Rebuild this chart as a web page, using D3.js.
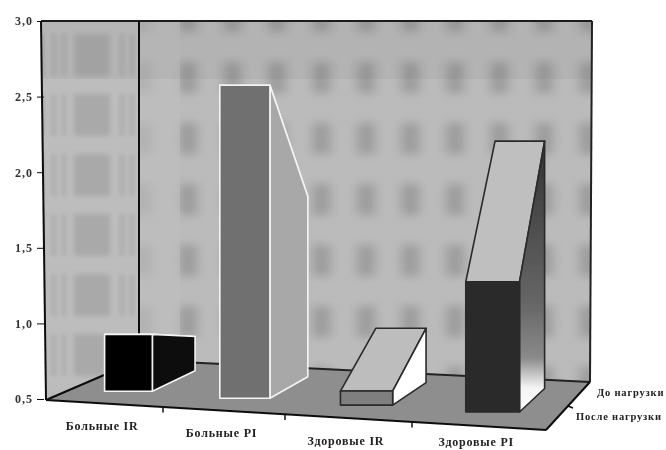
<!DOCTYPE html>
<html>
<head>
<meta charset="utf-8">
<script src="https://cdn.jsdelivr.net/npm/d3@7"></script>
<style>
html, body { margin: 0; padding: 0; background: #fff; overflow: hidden; }
svg { display: block; }
text { font-family: "Liberation Serif", serif; fill: #222; }
</style>
</head>
<body>
<svg id="chart" width="666" height="450"></svg>
<script>
var categories = ["Больные IR", "Больные PI", "Здоровые IR", "Здоровые PI"];
var series = ["После нагрузки", "До нагрузки"];
var after_load = [0.885, 2.615, 0.595, 1.38];
var before_load = [0.74, 1.76, 0.88, 2.23];
var y_ticks = [0.5, 1.0, 1.5, 2.0, 2.5, 3.0];

// per bar colours: front, top, side, outline
var front_fill = ["#050505", "#6f6f6f", "#7f7f7f", "#2c2c2c"];
var top_fill = ["#050505", "#a9a9a9", "#bdbdbd", "#bfbfbf"];
var side_fill = ["#0a0a0a", "#a8a8a8", "#ffffff", "url(#side4)"];
var edge = ["#f4f4f4", "#f4f4f4", "#2a2a2a", "#2a2a2a"];

var svg = d3.select("#chart");
var defs = svg.append("defs");

defs.append("filter").attr("id", "soft").append("feGaussianBlur").attr("stdDeviation", 0.7);
defs.append("filter").attr("id", "spot")
    .attr("x", "-60%").attr("y", "-60%").attr("width", "220%").attr("height", "220%")
    .append("feGaussianBlur").attr("stdDeviation", 5);

// scanned moire on the walls
var back_tex = defs.append("pattern").attr("id", "backTex")
    .attr("patternUnits", "userSpaceOnUse")
    .attr("x", 344).attr("y", 47).attr("width", 44.5).attr("height", 61);
back_tex.append("rect").attr("width", 44.5).attr("height", 61).attr("fill", "#bbbbbb");
back_tex.append("rect").attr("x", 13).attr("y", 15).attr("width", 18).attr("height", 31)
    .attr("fill", "#9c9c9c").attr("filter", "url(#spot)");

var left_tex = defs.append("pattern").attr("id", "leftTex")
    .attr("patternUnits", "userSpaceOnUse")
    .attr("x", 46).attr("y", 28).attr("width", 90).attr("height", 60);
left_tex.append("rect").attr("width", 90).attr("height", 60).attr("fill", "#bdbdbd");
[[6, 4], [16, 4], [28, 36], [74, 4], [84, 4]].forEach(function(s) {
    left_tex.append("rect").attr("x", s[0]).attr("y", 6).attr("width", s[1]).attr("height", 42)
        .attr("fill", "#a9a9a9").style("filter", "blur(2.5px)");
});

var side4 = defs.append("linearGradient").attr("id", "side4")
    .attr("x1", 0).attr("y1", 0).attr("x2", 0).attr("y2", 1);
side4.append("stop").attr("offset", "0%").attr("stop-color", "#333");
side4.append("stop").attr("offset", "60%").attr("stop-color", "#666");
side4.append("stop").attr("offset", "80%").attr("stop-color", "#8a8a8a");
side4.append("stop").attr("offset", "91%").attr("stop-color", "#f4f4f4");
side4.append("stop").attr("offset", "100%").attr("stop-color", "#fff");

// projection of the 3d box onto the page
var y = d3.scaleLinear().domain([0.5, 3]).range([399, 21]);
var quarter = [0, 0.25, 0.5, 0.75, 1];
var front_x = d3.scaleLinear().domain(quarter).range([46, 163, 285, 412, 546]);
var front_y = d3.scaleLinear().domain([0, 1]).range([400, 430]);
var back_x = d3.scaleLinear().domain(quarter).range([139, 245, 358, 476, 590]);
var back_y = d3.scaleLinear().domain([0, 1]).range([360, 382]);
var unit_px = d3.scaleLinear().domain([0, 1]).range([151, 141]);
var cat = d3.scalePoint().domain(categories).range([-0.005, 0.995]).padding(0.5);
var cat_w = 0.105;
var depth_near = 0.3;
var depth_far = 0.8;

// uy: where the floor height is read, so a bar's front stays level on the page
function project(u, d, v, uy) {
    var at = uy === undefined ? u : uy;
    var fl_x = front_x(u) + (back_x(u) - front_x(u)) * d;
    var fl_y = front_y(at) + (back_y(at) - front_y(at)) * d;
    return [fl_x, fl_y - (v - 0.5) * unit_px(d)];
}
var poly = d3.line();

var root = svg.append("g").attr("filter", "url(#soft)");

// walls and floor
var corner = {
    fl: project(0, 0, 0.5), fr: project(1, 0, 0.5),
    bl: project(0, 1, 0.5), br: project(1, 1, 0.5)
};
var top_y = y(3);
var tl = [41, top_y], tb = [corner.bl[0], top_y], tr = [592, top_y];

root.append("path").attr("d", poly([tl, tb, corner.bl, corner.fl]) + "Z").attr("fill", "url(#leftTex)");
root.append("path").attr("d", poly([tb, tr, corner.br, corner.bl]) + "Z").attr("fill", "url(#backTex)");
root.append("rect").attr("x", tb[0]).attr("y", top_y).attr("width", 41).attr("height", corner.bl[1] - top_y)
    .attr("fill", "#bfbfbf").attr("opacity", 0.65);
root.append("rect").attr("x", tl[0]).attr("y", top_y).attr("width", tr[0] - tl[0]).attr("height", 58)
    .attr("fill", "#000").attr("opacity", 0.04);
root.append("path").attr("d", poly([corner.fl, corner.bl, corner.br, corner.fr]) + "Z").attr("fill", "#8e8e8e");

function stroke_line(a, b, w, col) {
    root.append("path").attr("d", poly([a, b])).attr("fill", "none")
        .attr("stroke", col || "#0c0c0c").attr("stroke-width", w);
}
stroke_line(tl, tr, 2, "#1a1a1a");
stroke_line(tl, corner.fl, 2);
stroke_line(tb, corner.bl, 2);
stroke_line(tr, corner.br, 2, "#222");
stroke_line(corner.fl, corner.bl, 2);
stroke_line(corner.bl, corner.br, 2, "#222");
stroke_line(corner.fl, corner.fr, 2);
stroke_line(corner.fr, corner.br, 2);

// y axis
var y_axis = d3.axisLeft(y).tickValues(y_ticks).tickSize(7).tickPadding(4)
    .tickFormat(function(d) { return d3.format(".1f")(d).replace(".", ","); });
var gy = root.append("g").attr("transform", "translate(44,0)").call(y_axis);
gy.select(".domain").remove();
gy.selectAll("line").attr("stroke", "#111");
gy.selectAll("text").attr("font-size", 12).attr("font-weight", "bold")
    .attr("letter-spacing", 1).style("fill", "#333");

// category ticks and depth tick
d3.range(1, 4).forEach(function(i) {
    var p = project(i / 4, 0, 0.5);
    stroke_line(p, [p[0], p[1] + 5], 1.5);
});
var depth_tick = project(1, 0.5, 0.5);
stroke_line(depth_tick, [depth_tick[0] + 5, depth_tick[1] + 2], 1.5);

// bars
var bars = categories.map(function(c, i) {
    var um = cat(c), u0 = um - cat_w / 2, u1 = um + cat_w / 2;
    var vf = after_load[i], vb = before_load[i];
    return {
        i: i,
        front: [project(u0, depth_near, 0.5, um), project(u1, depth_near, 0.5, um), project(u1, depth_near, vf, um), project(u0, depth_near, vf, um)],
        top: [project(u0, depth_near, vf, um), project(u1, depth_near, vf, um), project(u1, depth_far, vb, um), project(u0, depth_far, vb, um)],
        side: [project(u1, depth_near, 0.5, um), project(u1, depth_far, 0.5, um), project(u1, depth_far, vb, um), project(u1, depth_near, vf, um)]
    };
});

var bar = root.selectAll("g.bar").data(bars).enter().append("g").attr("class", "bar")
    .attr("stroke", function(d) { return edge[d.i]; })
    .attr("stroke-width", 1.6)
    .attr("stroke-linejoin", "round");
bar.append("path").attr("d", function(d) { return poly(d.top) + "Z"; })
    .attr("fill", function(d) { return top_fill[d.i]; });
bar.append("path").attr("d", function(d) { return poly(d.side) + "Z"; })
    .attr("fill", function(d) { return side_fill[d.i]; });
bar.append("path").attr("d", function(d) { return poly(d.front) + "Z"; })
    .attr("fill", function(d) { return front_fill[d.i]; });

// category labels sit below the sloped front edge, kept inside the page
root.selectAll("text.cat").data(categories).enter().append("text").attr("class", "cat")
    .attr("x", function(d) { return project(cat(d), 0, 0.5)[0]; })
    .attr("y", function(d) { return Math.min(project(cat(d), 0, 0.5)[1] + 26, 446); })
    .attr("text-anchor", "middle")
    .attr("font-size", 12)
    .attr("font-weight", "bold")
    .attr("letter-spacing", 0.8)
    .text(function(d) { return d; });

// series labels on the depth edge
root.selectAll("text.ser").data(series).enter().append("text").attr("class", "ser")
    .attr("x", function(d, i) { return i === 0 ? 576 : 597; })
    .attr("y", function(d, i) { return i === 0 ? 420 : 396; })
    .attr("font-size", 10.5)
    .attr("font-weight", "bold")
    .attr("letter-spacing", 0.8)
    .text(function(d) { return d; });
</script>
</body>
</html>
